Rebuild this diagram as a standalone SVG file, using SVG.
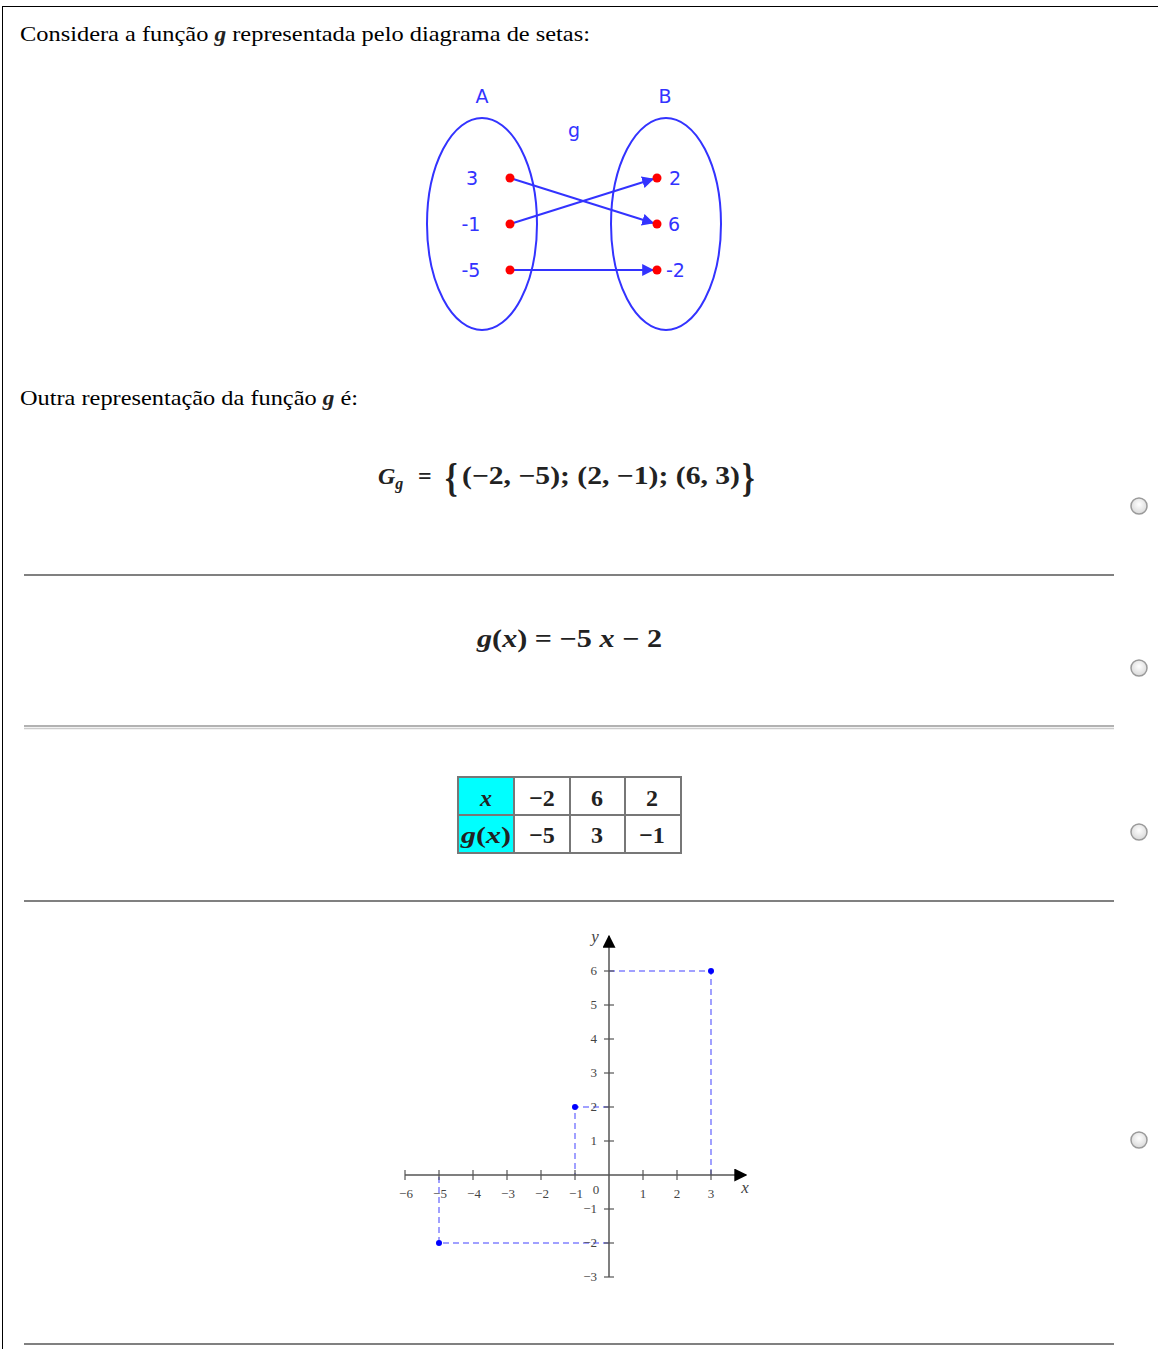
<svg xmlns="http://www.w3.org/2000/svg" width="1158" height="1349" viewBox="0 0 1158 1349">
<defs>
<style>
.serif{font-family:"Liberation Serif","DejaVu Serif",serif;fill:#000}
.m{font-family:"Liberation Serif","DejaVu Serif",serif;font-weight:bold;fill:#222}
.mi{font-family:"Liberation Serif","DejaVu Serif",serif;font-weight:bold;font-style:italic;fill:#222}
.dl{font-family:"DejaVu Sans","Liberation Sans",sans-serif;font-size:19px;fill:#3333ff}
.ell{fill:none;stroke:#3333ff;stroke-width:2}
.arr{stroke:#3333ff;stroke-width:2;fill:none}
.pt{fill:#ff0000}
.rule{stroke:#808080;stroke-width:2}
.gl{font-family:"Liberation Serif","DejaVu Serif",serif;font-size:13px;fill:#444}
.dash{stroke:#a0a0ff;stroke-width:2;stroke-dasharray:6,4;fill:none}
.tick{stroke:#555;stroke-width:1.2}
.cell{stroke:#777;stroke-width:2}
.radio{stroke:#9a9a9a;stroke-width:1.5}
</style>
<marker id="ah" viewBox="0 0 10 10" refX="9" refY="5" markerWidth="6" markerHeight="6" orient="auto" markerUnits="strokeWidth">
<path d="M0,0 L10,5 L0,10 z" fill="#3333ff"/>
</marker>
<marker id="ak" viewBox="0 0 10 10" refX="9" refY="5" markerWidth="13" markerHeight="13" orient="auto" markerUnits="userSpaceOnUse">
<path d="M0,0 L10,5 L0,10 z" fill="#000"/>
</marker>
<radialGradient id="rg" cx="0.5" cy="0.4" r="0.6">
<stop offset="0" stop-color="#ffffff"/>
<stop offset="1" stop-color="#d8d8d8"/>
</radialGradient>
</defs>
<rect width="1158" height="1349" fill="#fff"/>
<g id="frame">
<line x1="2.5" y1="6" x2="2.5" y2="1349" stroke="#000" stroke-width="1"/>
<line x1="2" y1="6.5" x2="1158" y2="6.5" stroke="#000" stroke-width="1"/>
</g>
<text class="serif" x="20" y="41" font-size="22" textLength="570" lengthAdjust="spacingAndGlyphs">Considera a função <tspan class="mi" font-size="21">g</tspan> representada pelo diagrama de setas:</text>
<g id="diagram">
<g id="setA">
<ellipse class="ell" cx="482" cy="224" rx="55" ry="106"/>
<text class="dl" x="482" y="103" text-anchor="middle">A</text>
<text class="dl" x="472" y="185" text-anchor="middle">3</text>
<text class="dl" x="471" y="231" text-anchor="middle">-1</text>
<text class="dl" x="471" y="277" text-anchor="middle">-5</text>
</g>
<g id="setB">
<ellipse class="ell" cx="666" cy="224" rx="55" ry="106"/>
<text class="dl" x="665" y="103" text-anchor="middle">B</text>
<text class="dl" x="669" y="185">2</text>
<text class="dl" x="668" y="231">6</text>
<text class="dl" x="666" y="277">-2</text>
</g>
<text class="dl" x="574" y="137" text-anchor="middle">g</text>
<g id="connectors">
<line class="arr" x1="510" y1="178" x2="653" y2="223" marker-end="url(#ah)"/>
<line class="arr" x1="510" y1="224" x2="653" y2="179" marker-end="url(#ah)"/>
<line class="arr" x1="510" y1="270" x2="653" y2="270" marker-end="url(#ah)"/>
</g>
<g id="points">
<circle class="pt" cx="510" cy="178" r="4.5"/>
<circle class="pt" cx="510" cy="224" r="4.5"/>
<circle class="pt" cx="510" cy="270" r="4.5"/>
<circle class="pt" cx="657" cy="178" r="4.5"/>
<circle class="pt" cx="657" cy="224" r="4.5"/>
<circle class="pt" cx="657" cy="270" r="4.5"/>
</g>
</g>
<text class="serif" x="20" y="405" font-size="22" textLength="338" lengthAdjust="spacingAndGlyphs">Outra representação da função <tspan class="mi" font-size="21">g</tspan> é:</text>
<g id="option1">
<text x="378" y="484" font-size="24"><tspan class="mi">G</tspan><tspan class="mi" font-size="16" dy="5">g</tspan><tspan class="m" dy="-5" x="418">=</tspan></text>
<text class="m" x="445" y="491" font-size="40" font-weight="normal" transform="translate(445 491) scale(0.8 1) translate(-445 -491)">{</text>
<text class="m" x="462" y="484" font-size="25" textLength="278" lengthAdjust="spacingAndGlyphs">(−2, −5); (2, −1); (6, 3)</text>
<text class="m" x="742" y="491" font-size="40" font-weight="normal" transform="translate(742 491) scale(0.8 1) translate(-742 -491)">}</text>
<circle class="radio" cx="1139" cy="506" r="8" fill="url(#rg)"/>
</g>
<line class="rule" x1="24" y1="575" x2="1114" y2="575"/>
<g id="option2">
<text x="477" y="647" font-size="25" textLength="185" lengthAdjust="spacingAndGlyphs"><tspan class="mi">g</tspan><tspan class="m">(</tspan><tspan class="mi">x</tspan><tspan class="m">) = −5 </tspan><tspan class="mi">x</tspan><tspan class="m"> − 2</tspan></text>
<circle class="radio" cx="1139" cy="668" r="8" fill="url(#rg)"/>
</g>
<line x1="24" y1="726" x2="1114" y2="726" stroke="#666" stroke-width="1.2"/>
<line x1="24" y1="728.5" x2="1114" y2="728.5" stroke="#ccc" stroke-width="1.5"/>
<g id="option3">
<rect x="458" y="777" width="56" height="76" fill="#00ffff"/>
<rect x="458" y="777" width="223" height="76" fill="none" class="cell"/>
<line class="cell" x1="458" y1="815" x2="681" y2="815"/>
<line class="cell" x1="514" y1="777" x2="514" y2="853"/>
<line class="cell" x1="570" y1="777" x2="570" y2="853"/>
<line class="cell" x1="625" y1="777" x2="625" y2="853"/>
<text class="mi" x="486" y="806" font-size="24" text-anchor="middle">x</text>
<text x="486" y="843" font-size="24" text-anchor="middle" textLength="50" lengthAdjust="spacingAndGlyphs"><tspan class="mi">g</tspan><tspan class="m">(</tspan><tspan class="mi">x</tspan><tspan class="m">)</tspan></text>
<text class="m" x="542" y="806" font-size="24" text-anchor="middle">−2</text>
<text class="m" x="597" y="806" font-size="24" text-anchor="middle">6</text>
<text class="m" x="652" y="806" font-size="24" text-anchor="middle">2</text>
<text class="m" x="542" y="843" font-size="24" text-anchor="middle">−5</text>
<text class="m" x="597" y="843" font-size="24" text-anchor="middle">3</text>
<text class="m" x="652" y="843" font-size="24" text-anchor="middle">−1</text>
<circle class="radio" cx="1139" cy="832" r="8" fill="url(#rg)"/>
</g>
<line class="rule" x1="24" y1="901" x2="1114" y2="901"/>
<g id="option4">
<g id="dashes">
<polyline class="dash" points="609,971 711,971 711,1175"/>
<polyline class="dash" points="609,1107 575,1107 575,1175"/>
<polyline class="dash" points="609,1243 439,1243 439,1175"/>
</g>
<line x1="405" y1="1175" x2="746" y2="1175" stroke="#555" stroke-width="1.5" marker-end="url(#ak)"/>
<line x1="609" y1="1277" x2="609" y2="936" stroke="#555" stroke-width="1.5" marker-end="url(#ak)"/>
<g id="xticks">
<line class="tick" x1="405" y1="1170" x2="405" y2="1180"/>
<line class="tick" x1="439" y1="1170" x2="439" y2="1180"/>
<line class="tick" x1="473" y1="1170" x2="473" y2="1180"/>
<line class="tick" x1="507" y1="1170" x2="507" y2="1180"/>
<line class="tick" x1="541" y1="1170" x2="541" y2="1180"/>
<line class="tick" x1="575" y1="1170" x2="575" y2="1180"/>
<line class="tick" x1="643" y1="1170" x2="643" y2="1180"/>
<line class="tick" x1="677" y1="1170" x2="677" y2="1180"/>
<line class="tick" x1="711" y1="1170" x2="711" y2="1180"/>
</g>
<g id="yticks">
<line class="tick" x1="604" y1="971" x2="614" y2="971"/>
<line class="tick" x1="604" y1="1005" x2="614" y2="1005"/>
<line class="tick" x1="604" y1="1039" x2="614" y2="1039"/>
<line class="tick" x1="604" y1="1073" x2="614" y2="1073"/>
<line class="tick" x1="604" y1="1107" x2="614" y2="1107"/>
<line class="tick" x1="604" y1="1141" x2="614" y2="1141"/>
<line class="tick" x1="604" y1="1209" x2="614" y2="1209"/>
<line class="tick" x1="604" y1="1243" x2="614" y2="1243"/>
<line class="tick" x1="604" y1="1277" x2="614" y2="1277"/>
</g>
<g id="xlabels" class="gl" text-anchor="middle">
<text x="406" y="1198">−6</text>
<text x="440" y="1198">−5</text>
<text x="474" y="1198">−4</text>
<text x="508" y="1198">−3</text>
<text x="542" y="1198">−2</text>
<text x="576" y="1198">−1</text>
<text x="596" y="1194">0</text>
<text x="643" y="1198">1</text>
<text x="677" y="1198">2</text>
<text x="711" y="1198">3</text>
</g>
<g id="ylabels" class="gl" text-anchor="end">
<text x="597" y="975">6</text>
<text x="597" y="1009">5</text>
<text x="597" y="1043">4</text>
<text x="597" y="1077">3</text>
<text x="597" y="1111">2</text>
<text x="597" y="1145">1</text>
<text x="597" y="1213">−1</text>
<text x="597" y="1247">−2</text>
<text x="597" y="1281">−3</text>
</g>
<text x="595" y="942" font-family="Liberation Serif, serif" font-style="italic" font-size="17" fill="#444" text-anchor="middle">y</text>
<text x="745" y="1193" font-family="Liberation Serif, serif" font-style="italic" font-size="17" fill="#444" text-anchor="middle">x</text>
<circle cx="711" cy="971" r="3" fill="#0000ff"/>
<circle cx="575" cy="1107" r="3" fill="#0000ff"/>
<circle cx="439" cy="1243" r="3" fill="#0000ff"/>
<circle class="radio" cx="1139" cy="1140" r="8" fill="url(#rg)"/>
</g>
<line class="rule" x1="24" y1="1344" x2="1114" y2="1344"/>
</svg>
